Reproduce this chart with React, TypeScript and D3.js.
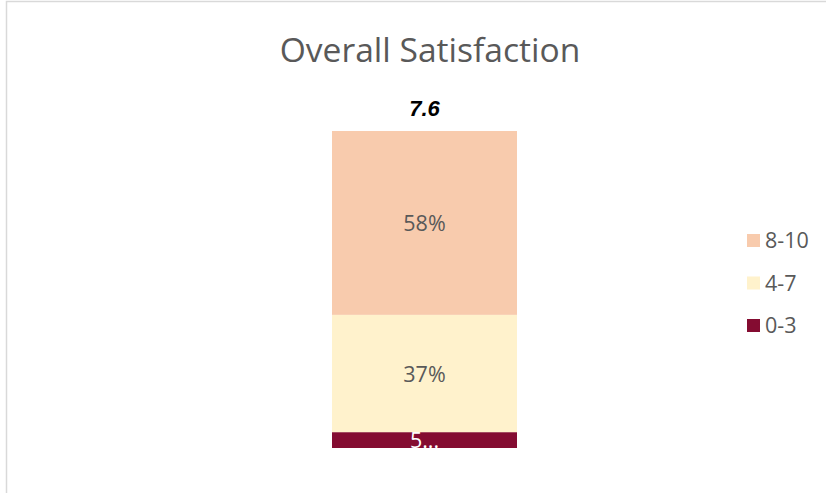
import React from "react";
import * as d3 from "d3";

const categories = ["0-3", "4-7", "8-10"];
const values = [5, 37, 58];
const labels = ["5...", "37%", "58%"];
const colors = ["#840C31", "#FFF2CC", "#F8CBAD"];
const labelColors = ["#FFFFFF", "#595959", "#595959"];
const legendOrder = ["8-10", "4-7", "0-3"];
const meanLabel = "7.6";
const title = "Overall Satisfaction";

export default function App() {
  const W = 826, H = 493;
  const y = d3.scaleLinear().domain([0, 100]).range([448, 131]);
  const x = d3.scaleBand().domain(["all"]).range([332, 517]).padding(0);
  const stack = d3.stack<any>().keys(categories)([
    Object.fromEntries(categories.map((c, i) => [c, values[i]])),
  ]);
  const font = "'Open Sans', 'Liberation Sans', sans-serif";
  return (
    <svg width={W} height={H} style={{ position: "absolute", left: 0, top: 0 }}>
      <rect x={0} y={0} width={W} height={H} fill="#fff" />
      <rect x={6.5} y={1.5} width={W + 10} height={H + 10} fill="none" stroke="#D9D9D9" strokeWidth={1.5} />
      <text x={430} y={62} textAnchor="middle" fontFamily={font} fontSize={33.6} fill="#595959">
        {title}
      </text>
      <text x={x("all")! + x.bandwidth() / 2} y={116} textAnchor="middle" fontFamily="'Liberation Sans', Arial, sans-serif" fontSize={22} fontStyle="italic" fontWeight="bold" fill="#000">
        {meanLabel}
      </text>
      {stack.map((s, i) => {
        const d = s[0];
        const y0 = y(d[1]);
        const y1 = y(d[0]);
        return (
          <g key={categories[i]}>
            <rect x={x("all")} y={y0} width={x.bandwidth()} height={y1 - y0} fill={colors[i]} />
            <text x={x("all")! + x.bandwidth() / 2} y={(y0 + y1) / 2 + 8} textAnchor="middle" fontFamily={font} fontSize={21.5} fill={labelColors[i]}>
              {labels[i]}
            </text>
          </g>
        );
      })}
      {legendOrder.map((c, i) => {
        const idx = categories.indexOf(c);
        const ly = 240.5 + i * 42.5;
        return (
          <g key={c}>
            <rect x={747} y={ly - 6.5} width={13} height={13} fill={colors[idx]} />
            <text x={765} y={ly + 7.5} fontFamily={font} fontSize={21.5} fill="#595959">
              {c}
            </text>
          </g>
        );
      })}
    </svg>
  );
}
